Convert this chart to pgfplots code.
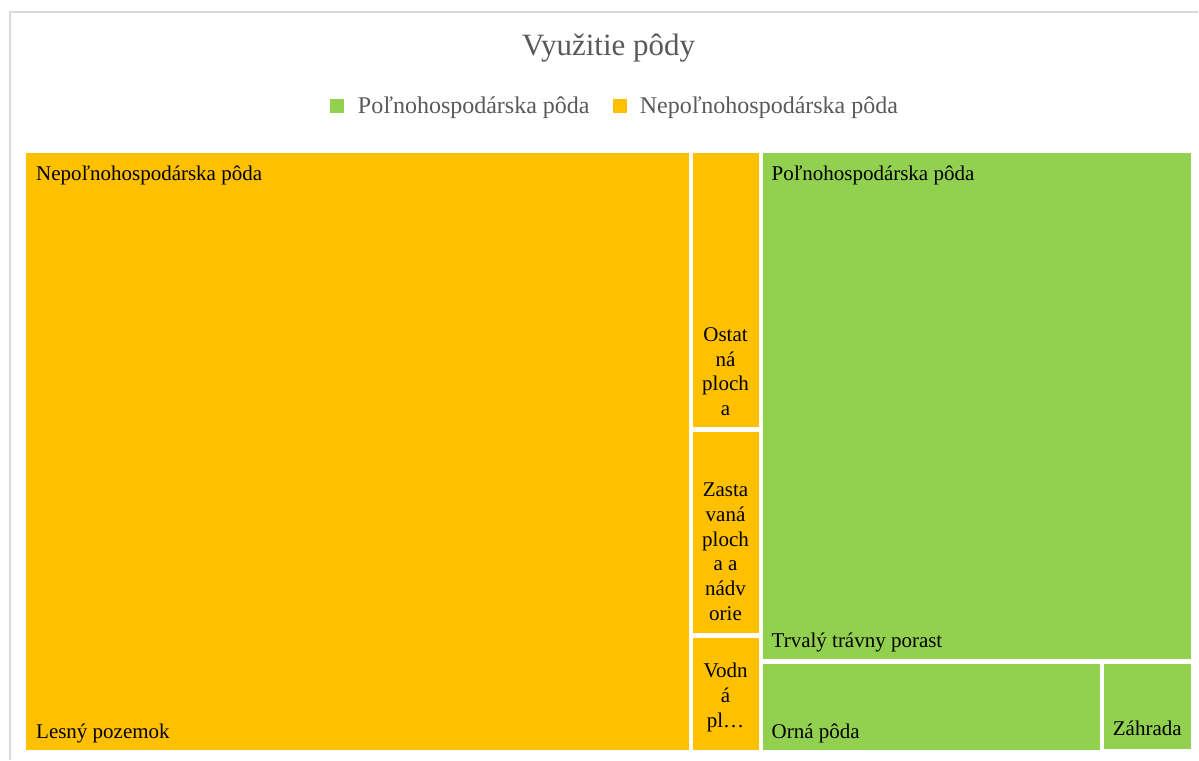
\documentclass[border=0pt]{standalone}
\usepackage{fontspec}
\setmainfont{Liberation Serif}
\usepackage{pgfplots}
\pgfplotsset{compat=1.18}
\definecolor{orng}{HTML}{FFC000}
\definecolor{grn}{HTML}{92D050}
\definecolor{txtgray}{HTML}{595959}
\definecolor{framegray}{HTML}{D9D9D9}
\begin{document}
\begin{tikzpicture}
\begin{axis}[scale only axis, width=1199pt, height=760pt,
  xmin=0, xmax=1199, ymin=0, ymax=760, y dir=reverse,
  hide axis, clip=false]
% background
\addplot[draw=none, fill=white] coordinates {(0,0) (1199,0) (1199,760) (0,760)} --cycle;
% outer frame
\addplot[framegray, line width=1.5pt] coordinates {(10,760) (10,12) (1199,12)};
% Nepolnohospodarska poda
\addplot[draw=none, fill=orng] coordinates {(26,153) (689,153) (689,750) (26,750)} --cycle;
\addplot[draw=none, fill=orng] coordinates {(693,153) (759,153) (759,427.5) (693,427.5)} --cycle;
\addplot[draw=none, fill=orng] coordinates {(693,432) (759,432) (759,633.5) (693,633.5)} --cycle;
\addplot[draw=none, fill=orng] coordinates {(693,638) (759,638) (759,750) (693,750)} --cycle;
% Polnohospodarska poda
\addplot[draw=none, fill=grn] coordinates {(763,153) (1191.5,153) (1191.5,659.5) (763,659.5)} --cycle;
\addplot[draw=none, fill=grn] coordinates {(763,664) (1101,664) (1101,750) (763,750)} --cycle;
\addplot[draw=none, fill=grn] coordinates {(1105,664) (1191.5,664) (1191.5,749) (1105,749)} --cycle;
% legend squares
\addplot[draw=none, fill=grn] coordinates {(330,99) (344,99) (344,113) (330,113)} --cycle;
\addplot[draw=none, fill=orng] coordinates {(613,99) (627,99) (627,113) (613,113)} --cycle;
% title and legend text
\node[anchor=base, inner sep=0pt, text=txtgray, font=\fontsize{31}{36}\selectfont] at (axis cs:609,56) {Využitie pôdy};
\node[anchor=base west, inner sep=0pt, text=txtgray, font=\fontsize{24}{28}\selectfont] at (axis cs:358,114) {Poľnohospodárska pôda};
\node[anchor=base west, inner sep=0pt, text=txtgray, font=\fontsize{24}{28}\selectfont] at (axis cs:640,114) {Nepoľnohospodárska pôda};
% labels
\begin{scope}[every node/.style={inner sep=0pt, font=\fontsize{21}{24}\selectfont, text=black}]
\node[anchor=base west] at (axis cs:36,181) {Nepoľnohospodárska pôda};
\node[anchor=base west] at (axis cs:36,739) {Lesný pozemok};
\node[anchor=base west] at (axis cs:772,181) {Poľnohospodárska pôda};
\node[anchor=base west] at (axis cs:772,648) {Trvalý trávny porast};
\node[anchor=base west] at (axis cs:772,739) {Orná pôda};
\node[anchor=base] at (axis cs:1148,736) {Záhrada};
\node[anchor=base] at (axis cs:726,342) {Ostat};
\node[anchor=base] at (axis cs:726,366.5) {ná};
\node[anchor=base] at (axis cs:726,391) {ploch};
\node[anchor=base] at (axis cs:726,415.5) {a};
\node[anchor=base] at (axis cs:726,497) {Zasta};
\node[anchor=base] at (axis cs:726,522) {vaná};
\node[anchor=base] at (axis cs:726,547) {ploch};
\node[anchor=base] at (axis cs:726,571) {a a};
\node[anchor=base] at (axis cs:726,596) {nádv};
\node[anchor=base] at (axis cs:726,621) {orie};
\node[anchor=base] at (axis cs:726,678) {Vodn};
\node[anchor=base] at (axis cs:726,703) {á};
\node[anchor=base] at (axis cs:726,728) {pl…};
\end{scope}
\end{axis}
\end{tikzpicture}
\end{document}
